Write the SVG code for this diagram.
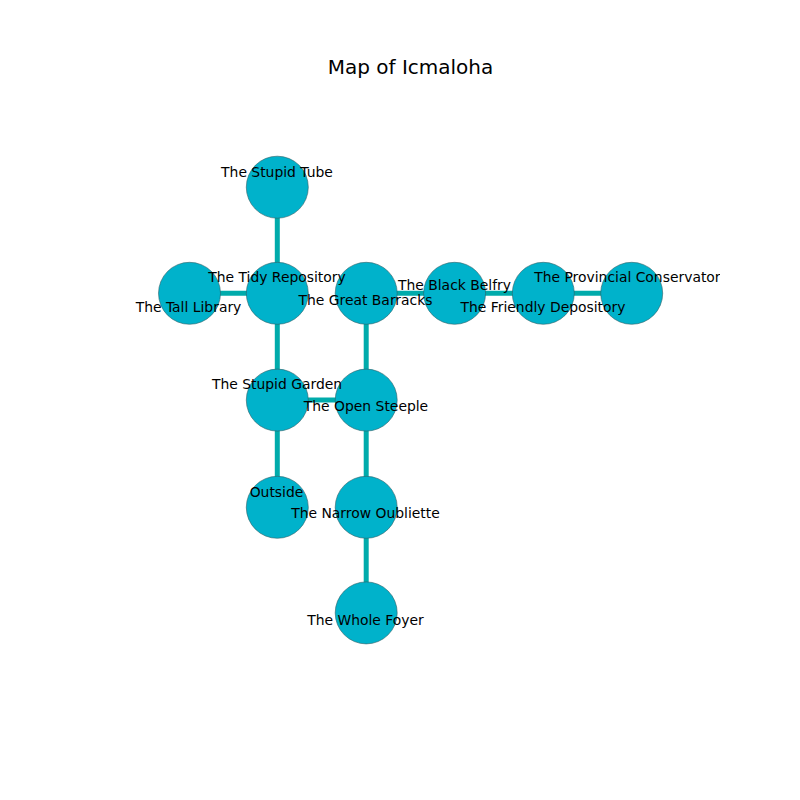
<svg xmlns="http://www.w3.org/2000/svg" width="800" height="800" viewBox="0 0 800 800">
<style>
.n{fill:#00b2cb;stroke:#2f5f66;stroke-width:0.6}
.e{stroke:#00abab;stroke-width:5;fill:none}
.l{font-family:"DejaVu Sans",sans-serif;font-size:13.9px;fill:#000;text-anchor:middle}
.t{font-family:"DejaVu Sans",sans-serif;font-size:20px;fill:#000;text-anchor:middle}
</style>
<defs><clipPath id="ax"><rect x="80" y="80" width="640" height="640"/></clipPath></defs>
<rect width="800" height="800" fill="#fff"/>
<text class="t" x="410.5" y="73.5">Map of Icmaloha</text>
<g id="connectors">
<line class="e" x1="277.3" y1="187.2" x2="277.3" y2="293.3"/>
<line class="e" x1="189.5" y1="293.3" x2="277.3" y2="293.3"/>
<line class="e" x1="277.3" y1="293.3" x2="277.3" y2="400.1"/>
<line class="e" x1="277.3" y1="400.1" x2="277.3" y2="507.3"/>
<line class="e" x1="277.3" y1="400.1" x2="366.2" y2="400.1"/>
<line class="e" x1="366.2" y1="293.3" x2="366.2" y2="400.1"/>
<line class="e" x1="366.2" y1="293.3" x2="454.6" y2="293.3"/>
<line class="e" x1="454.6" y1="293.3" x2="543.3" y2="293.3"/>
<line class="e" x1="543.3" y1="293.3" x2="631.7" y2="293.3"/>
<line class="e" x1="366.2" y1="400.1" x2="366.2" y2="507.3"/>
<line class="e" x1="366.2" y1="507.3" x2="366.2" y2="612.9"/>
</g>
<g id="n-stupid-tube"><circle class="n" cx="277.3" cy="187.2" r="31"/></g>
<g id="n-tall-library"><circle class="n" cx="189.5" cy="293.3" r="31"/></g>
<g id="n-tidy-repository"><circle class="n" cx="277.3" cy="293.3" r="31"/></g>
<g id="n-great-barracks"><circle class="n" cx="366.2" cy="293.3" r="31"/></g>
<g id="n-black-belfry"><circle class="n" cx="454.6" cy="293.3" r="31"/></g>
<g id="n-friendly-depository"><circle class="n" cx="543.3" cy="293.3" r="31"/></g>
<g id="n-provincial-conservatory"><circle class="n" cx="631.7" cy="293.3" r="31"/></g>
<g id="n-stupid-garden"><circle class="n" cx="277.3" cy="400.1" r="31"/></g>
<g id="n-open-steeple"><circle class="n" cx="366.2" cy="400.1" r="31"/></g>
<g id="n-outside"><circle class="n" cx="277.3" cy="507.3" r="31"/></g>
<g id="n-narrow-oubliette"><circle class="n" cx="366.2" cy="507.3" r="31"/></g>
<g id="n-whole-foyer"><circle class="n" cx="366.2" cy="612.9" r="31"/></g>
<g id="labels" clip-path="url(#ax)">
<text class="l" x="277" y="176.5">The Stupid Tube</text>
<text class="l" x="188.5" y="312.3">The Tall Library</text>
<text class="l" x="277" y="282.3">The Tidy Repository</text>
<text class="l" x="365.5" y="305">The Great Barracks</text>
<text class="l" x="454.5" y="290">The Black Belfry</text>
<text class="l" x="543" y="312.3">The Friendly Depository</text>
<text class="l" x="631.5" y="282.3">The Provincial Conservatory</text>
<text class="l" x="277" y="389.3">The Stupid Garden</text>
<text class="l" x="366" y="411">The Open Steeple</text>
<text class="l" x="276.5" y="496.6">Outside</text>
<text class="l" x="365.5" y="518.3">The Narrow Oubliette</text>
<text class="l" x="365.5" y="625">The Whole Foyer</text>
</g>
</svg>
